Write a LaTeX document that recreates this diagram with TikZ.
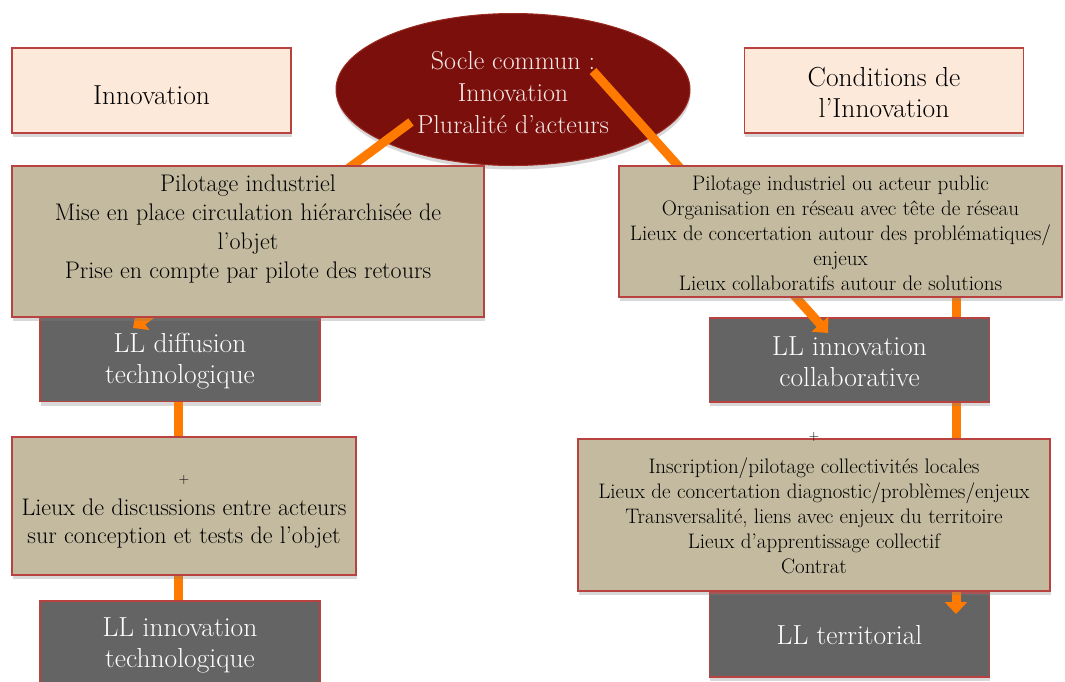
\documentclass[tikz,border=0pt]{standalone}
\usepackage{fontspec}
\usetikzlibrary{shapes.geometric,arrows.meta,shadows}
\definecolor{peach}{HTML}{FDE9DA}
\definecolor{boxred}{HTML}{B8423F}
\definecolor{tanfill}{HTML}{C4BA9F}
\definecolor{grayfill}{HTML}{646464}
\definecolor{soclefill}{HTML}{7A0F0C}
\definecolor{socleedge}{HTML}{9A2A22}
\definecolor{socletext}{HTML}{F6EAE8}
\definecolor{arrorange}{HTML}{FF7A00}
\tikzset{
  boxbase/.style={draw=boxred, line width=1.2pt, inner sep=0pt,
    drop shadow={shadow xshift=0.5pt, shadow yshift=-4pt, opacity=0.3}},
  peachbox/.style={boxbase, fill=peach, minimum width=279pt, minimum height=85pt},
  tanbox/.style={boxbase, fill=tanfill},
  graybox/.style={boxbase, fill=grayfill, minimum width=280pt, minimum height=84pt},
  bigtext/.style={align=center, inner sep=0pt, font=\fontsize{27.5}{31}\selectfont},
  graytext/.style={bigtext, text=white},
  midtext/.style={align=center, inner sep=0pt, font=\fontsize{24}{29}\selectfont},
  smalltext/.style={align=center, inner sep=0pt, font=\fontsize{21}{25}\selectfont},
  plustext/.style={inner sep=0pt, font=\fontsize{14}{16}\selectfont},
  conn/.style={line width=9pt, draw=arrorange},
  connarrow/.style={conn, -{Triangle[width=22pt,length=12pt]}}
}
\begin{document}
\begin{tikzpicture}[x=1pt,y=-1pt]
\useasboundingbox (0,0) rectangle (1065,681);
\fill[white] (0,0) rectangle (1065,681);

% central ellipse
\node[ellipse, draw=socleedge, line width=1pt, fill=soclefill, minimum width=354pt, minimum height=152pt, inner sep=0pt,
  drop shadow={shadow xshift=0.5pt, shadow yshift=-4pt, opacity=0.3}] (ell) at (513,89.5) {};
\node[bigtext, text=socletext, font=\fontsize{26}{32}\selectfont] (elltext) at (513,93) {Socle commun :\\Innovation\\Pluralité d’acteurs};

% gray boxes lying under the connectors
\node[graybox] (lldiff) at (180,359.5) {};
\node[graybox] (lltech) at (180,643) {};
\node[graybox] (llterr) at (849.5,635) {};

% vertical connectors
\draw[conn] ([xshift=-2pt]lldiff.south) -- ([xshift=-2pt]lltech.north);
\coordinate (rvtop) at (956,280);
\coordinate (rvend) at (956,614);
\draw[connarrow] (rvtop) -- (rvend);

\node[graybox] (llcollab) at (849.5,360) {};

% diagonal connectors
\coordinate (dlstart) at (411,122);
\coordinate (dlend) at (133,328);
\draw[connarrow] (dlstart) -- (dlend);
\coordinate (drstart) at (593,71);
\coordinate (drend) at (828,333);
\draw[connarrow] (drstart) -- (drend);

% texts of gray boxes
\node[graytext] (tdiff) at (lldiff.center) [yshift=-2pt] {LL diffusion\\technologique};
\node[graytext] (ttech) at (lltech.center) [yshift=-2pt] {LL innovation\\technologique};
\node[graytext] (tcollab) at (llcollab.center) [yshift=-2pt] {LL innovation\\collaborative};
\node[graytext] (tterr) at (llterr.center) {LL territorial};

% top boxes
\node[peachbox] (inno) at (151.5,90.5) {};
\node[bigtext] (tinno) at (151.5,95) {Innovation};
\node[peachbox] (cond) at (884,90.5) {};
\node[bigtext] (tcond) at (884,92.5) {Conditions de\\l’Innovation};

% tan boxes
\node[tanbox, minimum width=472pt, minimum height=151pt] (tanL1) at (248,241.5) {};
\node[midtext] (ttanL1) at (248,229) {Pilotage industriel\\Mise en place circulation hiérarchisée de\\l’objet\\Prise en compte par pilote des retours};

\node[tanbox, minimum width=344pt, minimum height=138pt] (tanL2) at (184,506) {};
\node[plustext] (plusL) at (184,480) {+};
\node[midtext, font=\fontsize{24}{28}\selectfont] (ttanL2) at (184,524) {Lieux de discussions entre acteurs\\sur conception et tests de l’objet};

\node[tanbox, minimum width=443pt, minimum height=131pt] (tanR1) at (840.5,231.5) {};
\node[smalltext] (ttanR1) at (840.5,233.5) {Pilotage industriel ou acteur public\\Organisation en réseau avec tête de réseau\\Lieux de concertation autour des problématiques/\\enjeux\\Lieux collaboratifs autour de solutions};

\node[tanbox, minimum width=472pt, minimum height=152pt] (tanR2) at (814,515) {};
\node[smalltext] (ttanR2) at (814,515.5) {Inscription/pilotage collectivités locales\\Lieux de concertation diagnostic/problèmes/enjeux\\Transversalité, liens avec enjeux du territoire\\Lieux d’apprentissage collectif\\Contrat};
\node[plustext] (plusR) at (814,437) {+};
\end{tikzpicture}
\end{document}
